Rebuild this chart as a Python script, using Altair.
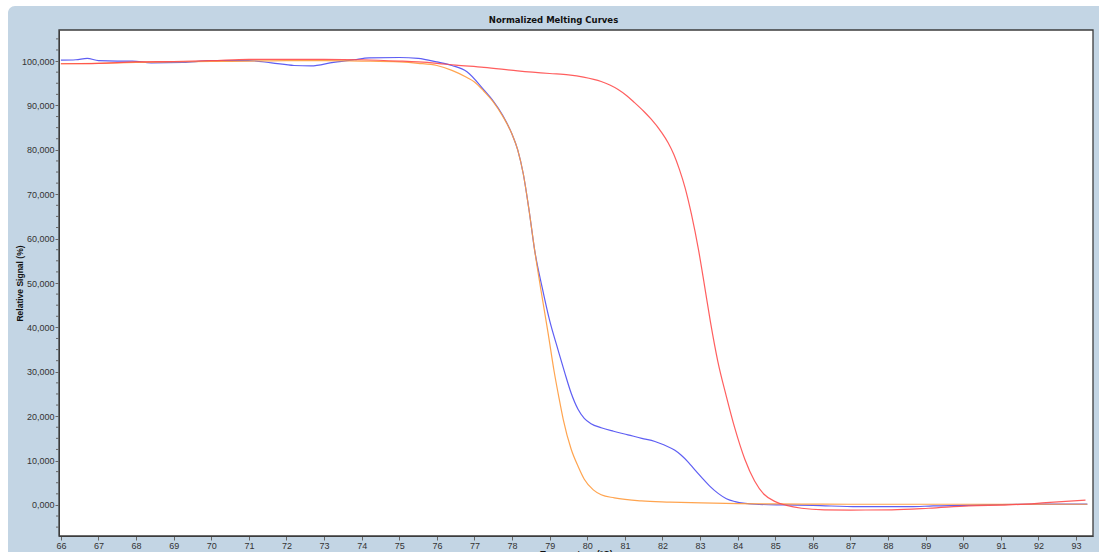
import altair as alt
import pandas as pd

# ---------------- data ----------------
blue_t = [66.0, 66.4, 66.7, 67.0, 67.5, 67.9, 68.4, 69.25, 70.0, 71.0, 71.6, 72.2, 72.65, 73.25, 73.8,
          74.2, 75.0, 75.5, 76.0, 76.4, 76.8, 77.25, 77.5, 77.75, 78.0, 78.15, 78.3, 78.45, 78.6, 78.8,
          79.0, 79.22, 79.4, 79.57, 79.75, 79.92, 80.1, 80.37, 80.7, 81.08, 81.45, 81.8, 82.05, 82.33,
          82.5, 82.69, 82.85, 83.04, 83.25, 83.48, 83.7, 83.93, 84.2, 84.46, 85.25, 86.0, 87.2, 88.6,
          89.2, 90.0, 91.0, 92.2, 93.3]
blue_v = [100.2, 100.3, 100.6, 100.1, 100.0, 100.0, 99.6, 99.7, 100.1, 100.1, 99.6, 99.0, 98.9, 99.7, 100.3,
          100.7, 100.8, 100.6, 99.8, 99.0, 97.6, 93.5, 91.0, 87.8, 83.5, 80.0, 74.5, 66.5, 57.4, 49.0,
          41.5, 35.0, 29.8, 25.2, 21.6, 19.5, 18.3, 17.4, 16.6, 15.8, 15.0, 14.3, 13.5, 12.3,
          11.2, 9.6, 8.0, 6.2, 4.3, 2.6, 1.4, 0.75, 0.35, 0.15, 0.0, -0.1, -0.4, -0.4,
          -0.2, -0.1, 0.1, 0.2, 0.2]

orange_t = [66.0, 67.0, 68.0, 69.0, 70.0, 71.0, 72.0, 73.0, 74.0, 75.0, 75.5, 76.0, 76.4, 76.8, 77.0,
            77.25, 77.5, 77.75, 78.0, 78.15, 78.3, 78.45, 78.6, 78.77, 78.96, 79.12, 79.25, 79.36, 79.57,
            79.76, 79.92, 80.16, 80.37, 80.72, 81.44, 82.2, 83.04, 84.0, 85.7, 87.0, 89.0, 91.0, 93.3]
orange_v = [99.4, 99.5, 99.7, 99.8, 99.9, 100.0, 100.1, 100.1, 100.0, 99.8, 99.5, 99.0, 97.9, 96.3, 95.3,
            93.2, 90.8, 87.6, 83.5, 80.0, 74.5, 66.5, 57.4, 48.3, 38.6, 30.0, 24.0, 19.3, 12.6,
            8.6, 5.8, 3.4, 2.3, 1.6, 0.9, 0.65, 0.45, 0.3, 0.2, 0.15, 0.15, 0.15, 0.15]

red_t = [66.0, 67.0, 68.0, 69.0, 70.0, 71.0, 72.0, 73.0, 74.0, 75.0, 75.5, 76.0, 76.5, 77.25, 78.15,
         79.0, 79.5, 79.9, 80.37, 80.6, 80.82, 81.05, 81.25, 81.5, 81.7, 81.97, 82.15, 82.3, 82.45,
         82.6, 82.77, 82.96, 83.12, 83.28, 83.47, 83.7, 83.92, 84.19, 84.45, 84.7, 85.0, 85.3, 85.7,
         86.3, 87.0, 88.1, 89.08, 90.15, 91.2, 92.2, 93.25]
red_v = [99.4, 99.5, 99.8, 99.9, 100.1, 100.4, 100.4, 100.4, 100.3, 100.0, 99.8, 99.5, 99.1, 98.6, 97.8,
         97.2, 96.9, 96.4, 95.4, 94.6, 93.6, 92.2, 90.7, 88.7, 86.9, 84.0, 81.6, 79.0, 75.6,
         71.5, 65.5, 57.4, 49.3, 41.0, 32.4, 24.4, 17.4, 10.3, 5.4, 2.4, 0.75, -0.1, -0.75,
         -1.1, -1.15, -1.1, -0.75, -0.2, 0.0, 0.5, 1.1]

series_names = ["Blue sample", "Orange sample", "Red sample"]
series_colors = ["#4c4cf2", "#ff9a3c", "#ff4d4d"]

x_ticks = list(range(66, 94))
y_ticks = [0, 10, 20, 30, 40, 50, 60, 70, 80, 90, 100]
y_minor = [-5, -2.5, 2.5, 5, 7.5, 12.5, 15, 17.5, 22.5, 25, 27.5, 32.5, 35, 37.5, 42.5, 45, 47.5,
           52.5, 55, 57.5, 62.5, 65, 67.5, 72.5, 75, 77.5, 82.5, 85, 87.5, 92.5, 95, 97.5, 102.5, 105]

chart_title = "Normalized Melting Curves"
x_title = "Temperature (°C)"
y_title = "Relative Signal (%)"

# ---------------- build tables ----------------
rows = []
for name, ts, vs in zip(series_names, [blue_t, orange_t, red_t], [blue_v, orange_v, red_v]):
    for i, (t, v) in enumerate(zip(ts, vs)):
        rows.append({"series": name, "temp": t, "signal": v, "order": i})
df = pd.DataFrame(rows)
minor_df = pd.DataFrame({"signal": y_minor})
one = pd.DataFrame({"a": [0]})

W, H = 1034, 506
FONT = "Liberation Sans, Arial, sans-serif"

x_scale = alt.Scale(domain=[65.95, 93.45], nice=False, zero=False)
y_scale = alt.Scale(domain=[-7, 107], nice=False, zero=False)

y_axis = alt.Axis(values=y_ticks, title=y_title, tickSize=4, labelPadding=1,
                  labelExpr="replace(format(datum.value, '.3f'), '.', ',')",
                  labelFont=FONT, labelFontSize=9, labelColor="#333333",
                  titleFont="Liberation Sans", titleFontSize=8.5, titleFontWeight="bold",
                  titleColor="#111111", titleX=-35, titleY=H / 2, titleAngle=270,
                  titleAlign="center", titleBaseline="bottom",
                  domainColor="#3c3c3c", tickColor="#666666", grid=False, zindex=1,
                  labelFlush=False, labelOverlap=False)

x_axis = alt.Axis(values=x_ticks, title=x_title, format="d", tickSize=4, labelPadding=1,
                  labelFont=FONT, labelFontSize=9, labelColor="#333333",
                  titleFont="Liberation Sans", titleFontSize=9, titleFontWeight="bold",
                  titleColor="#111111", titleY=13, titleBaseline="top",
                  domainColor="#3c3c3c", tickColor="#666666", grid=False, zindex=1,
                  labelFlush=False, labelOverlap=False)

panel = alt.Chart(one).mark_rect(fill="#c3d5e4", cornerRadius=7).encode(
    x=alt.value(-51), x2=alt.value(W + 20), y=alt.value(-24), y2=alt.value(H + 40)
)
plotbg = alt.Chart(one).mark_rect(fill="white", stroke="#3c3c3c", strokeWidth=1.3).encode(
    x=alt.value(0), x2=alt.value(W), y=alt.value(0), y2=alt.value(H)
)
minor = alt.Chart(minor_df).mark_rule(color="#666666", strokeWidth=1).encode(
    y=alt.Y("signal:Q", scale=y_scale, axis=y_axis),
    x=alt.value(-3), x2=alt.value(0)
)

lines = alt.Chart(df).mark_line(strokeWidth=1.2, interpolate="monotone", opacity=0.9).encode(
    x=alt.X("temp:Q", scale=x_scale, axis=x_axis),
    y=alt.Y("signal:Q", scale=y_scale, axis=y_axis),
    color=alt.Color("series:N", scale=alt.Scale(domain=series_names, range=series_colors), legend=None),
    order="order:Q",
)

title = alt.Chart(one).mark_text(text=chart_title, font="DejaVu Sans", fontSize=8.5, fontWeight="bold",
                                 color="#111111", align="center", baseline="middle").encode(
    x=alt.value(494.5), y=alt.value(-10)
)

chart = alt.layer(panel, plotbg, minor, lines, title).properties(
    width=W, height=H,
    autosize=alt.AutoSizeParams(type="none"),
    padding={"left": 59, "top": 30, "right": 6, "bottom": 16},
    background="white",
).configure_view(stroke=None, fill=None)

chart.save("out.html", embed_options={"renderer": "svg", "actions": False})
